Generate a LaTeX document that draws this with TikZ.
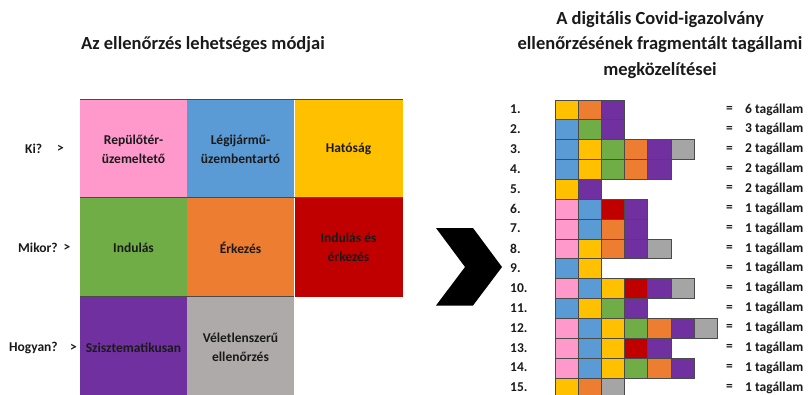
\documentclass[tikz,border=0pt]{standalone}
\usepackage{fontspec}
\setmainfont{Carlito}
\definecolor{pinkc}{HTML}{FF99CC}
\definecolor{bluec}{HTML}{5B9BD5}
\definecolor{yelc}{HTML}{FFC000}
\definecolor{greenc}{HTML}{70AD47}
\definecolor{orc}{HTML}{ED7D31}
\definecolor{redc}{HTML}{C00000}
\definecolor{purc}{HTML}{7030A0}
\definecolor{grayl}{HTML}{AEAAAA}
\definecolor{grayr}{HTML}{A5A5A5}
\definecolor{linec}{HTML}{4A4A4A}
\definecolor{txt}{HTML}{1A1A1A}
\begin{document}
\begin{tikzpicture}[x=1pt,y=-1pt,
  title/.style={font=\fontsize{18.5}{25.5}\selectfont\bfseries, text=txt, align=center, inner sep=0},
  cell/.style={minimum width=107pt, inner sep=0, align=center, text=txt,
    font=\fontsize{13.5}{19}\selectfont\bfseries},
  lbl/.style={anchor=west, inner sep=0, text=txt, font=\fontsize{13.5}{16}\selectfont\bfseries},
  sq/.style={draw=linec, line width=0.8pt, minimum width=23.1pt, minimum height=19.86pt, inner sep=0, anchor=north west},
  gridline/.style={draw=linec, line width=1.2pt}
]
\useasboundingbox (0,0) rectangle (808,394);
\clip (0,0) rectangle (808,394);

% titles
\node[title] (t1) at (203,45) {Az ellenőrzés lehetséges módjai};
\node[title] (t2) at (660,45) {A digitális Covid-igazolvány\\ellenőrzésének fragmentált tagállami\\megközelítései};

% left grid cells
\node[cell, fill=pinkc, minimum height=98pt] (c11) at (133.5,149) {Repülőtér-\\üzemeltető};
\node[cell, fill=bluec, minimum height=98pt] (c12) at (240.5,149) {Légijármű-\\üzembentartó};
\node[cell, fill=yelc, minimum width=108pt, minimum height=98pt] (c13) at (348.5,149) {Hatóság};
\node[cell, fill=greenc, minimum height=99pt] (c21) at (133.5,247.5) {Indulás};
\node[cell, fill=orc, minimum height=99pt] (c22) at (240.5,247.5) {Érkezés};
\node[cell, fill=redc, minimum width=108pt, minimum height=99pt] (c23) at (348.5,247.5) {Indulás és\\érkezés};
\node[cell, fill=purc, minimum height=101pt] (c31) at (133.5,347.5) {Szisztematikusan};
\node[cell, fill=grayl, minimum height=101pt] (c32) at (240.5,347.5) {Véletlenszerű\\ellenőrzés};

\draw[gridline] (c11.north west) -- (c13.north east);
\draw[gridline] (c21.north west) -- (c23.north east);
\draw[gridline] (c31.north west) -- (c32.north east);

% row labels
\node[lbl] (lki) at (25,149) {Ki?};
\node[lbl] (lkig) at (57,149) {>};
\node[lbl] (lmi) at (18,247.5) {Mikor?};
\node[lbl] (lmig) at (63.5,247.5) {>};
\node[lbl] (lho) at (9,347.5) {Hogyan?};
\node[lbl] (lhog) at (70,347.5) {>};

% chevron
\fill[black] (436,228) -- (473,228) -- (502,267) -- (473,305.5) -- (436,305.5) -- (465,267) -- cycle;

% right squares
\foreach \cols [count=\r] in {
  {yelc,orc,purc},
  {bluec,greenc,purc},
  {bluec,yelc,greenc,orc,purc,grayr},
  {bluec,yelc,greenc,orc,purc},
  {yelc,purc},
  {pinkc,bluec,redc,purc},
  {pinkc,bluec,orc,purc},
  {pinkc,yelc,orc,purc,grayr},
  {bluec,yelc},
  {pinkc,bluec,yelc,redc,purc,grayr},
  {bluec,yelc,greenc,purc},
  {pinkc,bluec,yelc,greenc,orc,purc,grayr},
  {pinkc,bluec,yelc,redc,purc},
  {pinkc,bluec,yelc,greenc,orc,purc},
  {yelc,orc,grayr}} {
  \foreach \c [count=\k] in \cols {
    \node[sq, fill=\c] (s-\r-\k) at ({555+23.1*(\k-1)}, {99.5+19.86*(\r-1)}) {};
  }
  \node[lbl] (n-\r) at (510, {99.5+19.86*(\r-0.5)}) {\r.};
  \node[lbl] (e-\r) at (726, {99.5+19.86*(\r-0.5)}) {=};
}
\foreach \n [count=\r] in {6,3,2,2,2,1,1,1,1,1,1,1,1,1,1} {
  \node[lbl] (v-\r) at (745, {99.5+19.86*(\r-0.5)}) {\n\ tagállam};
}
\end{tikzpicture}
\end{document}
